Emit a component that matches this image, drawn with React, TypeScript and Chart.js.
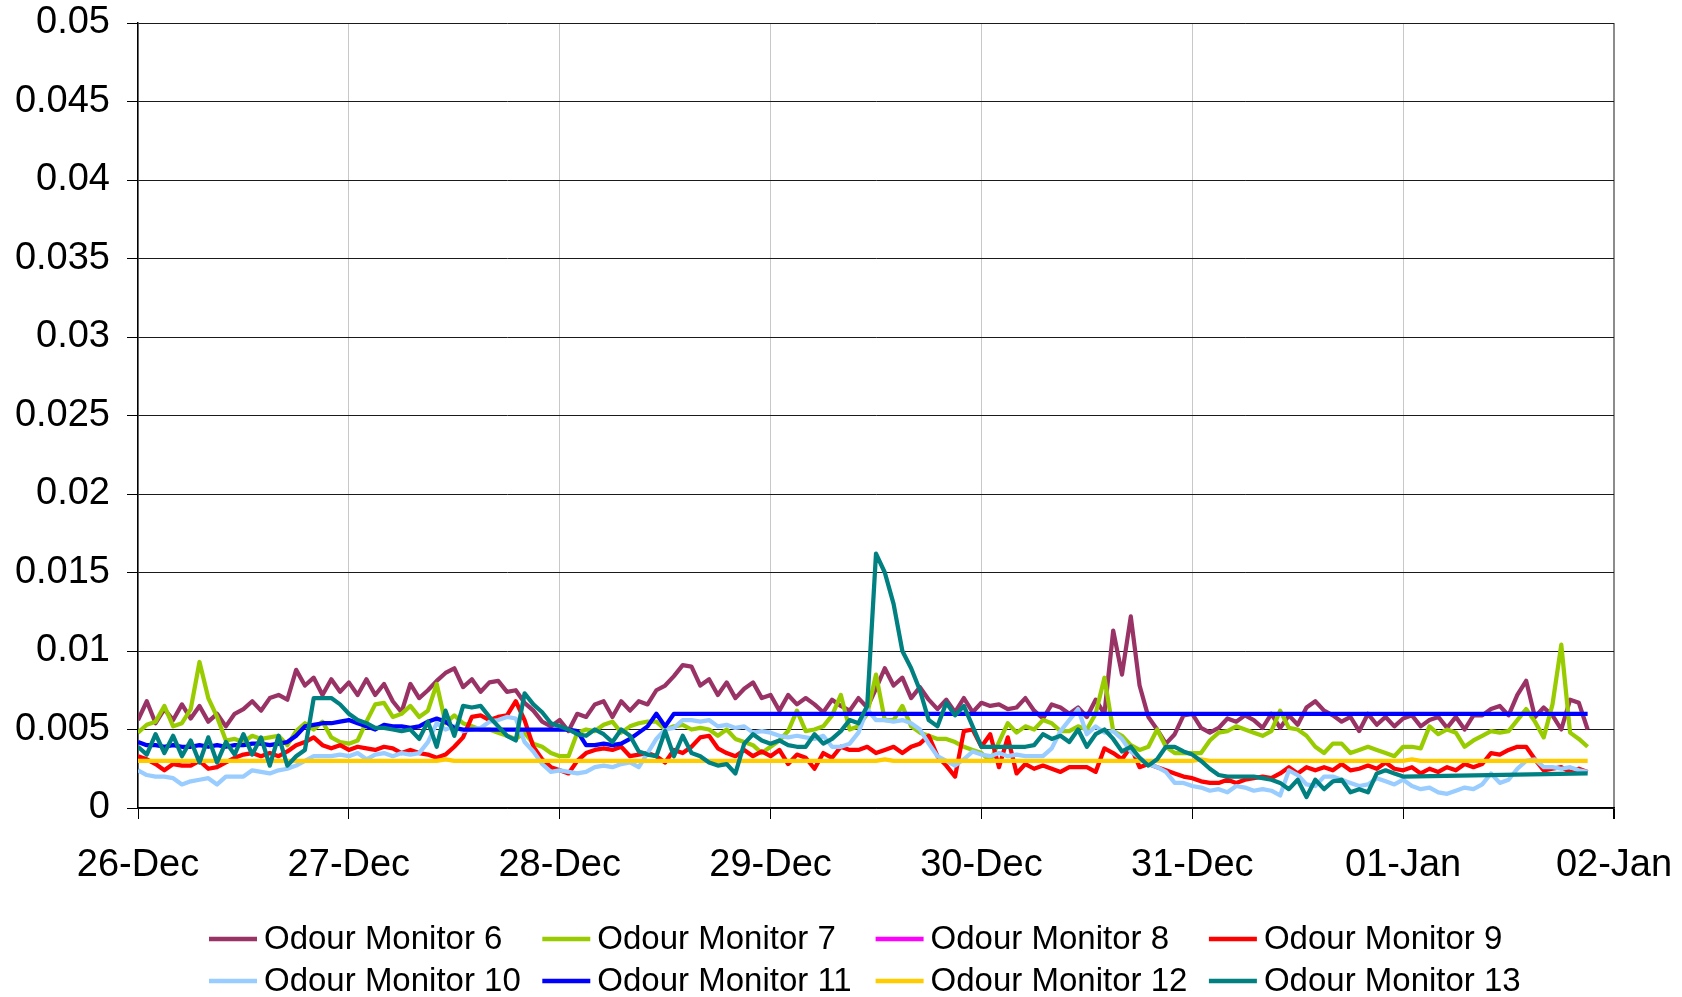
import React, { useEffect, useRef } from 'react';
import { Chart, registerables } from 'chart.js';

Chart.register(...registerables);

// ---------- data ----------
const xTickLabels = ['26-Dec', '27-Dec', '28-Dec', '29-Dec', '30-Dec', '31-Dec', '01-Jan', '02-Jan'];

const seriesNames = [
  'Odour Monitor 6', 'Odour Monitor 7', 'Odour Monitor 8', 'Odour Monitor 9',
  'Odour Monitor 10', 'Odour Monitor 11', 'Odour Monitor 12', 'Odour Monitor 13',
];
const seriesColors = ['#993366', '#99CC00', '#FF00FF', '#FF0000', '#99CCFF', '#0000FF', '#FFCC00', '#008080'];

// hourly readings starting 26-Dec 00:00
const monitor6 = [
  0.0056, 0.0068, 0.0054, 0.0063, 0.0056, 0.0066, 0.0057, 0.0065, 0.0055, 0.0060, 0.0052, 0.0060, 0.0063, 0.0068, 0.0062, 0.0070, 0.0072, 0.0069, 0.0088, 0.0078, 0.0083, 0.0072, 0.0082, 0.0074,
  0.0080, 0.0072, 0.0082, 0.0072, 0.0079, 0.0068, 0.0061, 0.0079, 0.0070, 0.0075, 0.0081, 0.0086, 0.0089, 0.0077, 0.0082, 0.0074, 0.0080, 0.0081, 0.0074, 0.0075, 0.0067, 0.0062, 0.0055, 0.0052,
  0.0056, 0.0049, 0.0060, 0.0058, 0.0066, 0.0068, 0.0058, 0.0068, 0.0062, 0.0068, 0.0066, 0.0075, 0.0078, 0.0084, 0.0091, 0.0090, 0.0078, 0.0082, 0.0072, 0.0080, 0.0070, 0.0076, 0.0080, 0.0070,
  0.0072, 0.0062, 0.0072, 0.0066, 0.0070, 0.0066, 0.0061, 0.0069, 0.0065, 0.0062, 0.0070, 0.0064, 0.0076, 0.0089, 0.0078, 0.0083, 0.0070, 0.0077, 0.0069, 0.0063, 0.0069, 0.0061, 0.0070, 0.0061,
  0.0067, 0.0065, 0.0066, 0.0063, 0.0064, 0.0070, 0.0062, 0.0057, 0.0066, 0.0064, 0.0060, 0.0064, 0.0058, 0.0069, 0.0060, 0.0113, 0.0085, 0.0122, 0.0078, 0.0058, 0.0050, 0.0041, 0.0047, 0.0059,
  0.0060, 0.0051, 0.0048, 0.0051, 0.0057, 0.0055, 0.0059, 0.0056, 0.0051, 0.0060, 0.0051, 0.0059, 0.0053, 0.0064, 0.0068, 0.0062, 0.0059, 0.0055, 0.0058, 0.0049, 0.0060, 0.0053, 0.0058, 0.0052,
  0.0057, 0.0059, 0.0052, 0.0056, 0.0058, 0.0051, 0.0058, 0.0050, 0.0059, 0.0059, 0.0063, 0.0065, 0.0059, 0.0072, 0.0081, 0.0058, 0.0064, 0.0059, 0.0050, 0.0069, 0.0067, 0.0050,
];

const monitor7 = [
  0.0048, 0.0053, 0.0055, 0.0065, 0.0052, 0.0054, 0.0063, 0.0093, 0.0070, 0.0058, 0.0043, 0.0044, 0.0042, 0.0046, 0.0044, 0.0045, 0.0046, 0.0040, 0.0049, 0.0054, 0.0050, 0.0055, 0.0045, 0.0042,
  0.0041, 0.0043, 0.0055, 0.0066, 0.0067, 0.0058, 0.0060, 0.0065, 0.0058, 0.0062, 0.0079, 0.0054, 0.0059, 0.0054, 0.0052, 0.0050, 0.0050, 0.0048, 0.0046, 0.0044, 0.0048, 0.0041, 0.0039, 0.0035,
  0.0033, 0.0033, 0.0048, 0.0050, 0.0049, 0.0053, 0.0055, 0.0048, 0.0052, 0.0054, 0.0055, 0.0055, 0.0050, 0.0052, 0.0053, 0.0050, 0.0051, 0.0050, 0.0046, 0.0050, 0.0044, 0.0042, 0.0040, 0.0035,
  0.0039, 0.0043, 0.0049, 0.0062, 0.0049, 0.0050, 0.0052, 0.0059, 0.0072, 0.0050, 0.0052, 0.0060, 0.0085, 0.0056, 0.0056, 0.0065, 0.0052, 0.0048, 0.0046, 0.0044, 0.0044, 0.0042, 0.0039, 0.0037,
  0.0035, 0.0030, 0.0042, 0.0054, 0.0048, 0.0052, 0.0050, 0.0056, 0.0054, 0.0049, 0.0049, 0.0052, 0.0050, 0.0060, 0.0083, 0.0049, 0.0046, 0.0040, 0.0037, 0.0039, 0.0050, 0.0039, 0.0035, 0.0035,
  0.0035, 0.0035, 0.0043, 0.0048, 0.0049, 0.0052, 0.0050, 0.0048, 0.0046, 0.0049, 0.0062, 0.0051, 0.0050, 0.0046, 0.0039, 0.0035, 0.0041, 0.0041, 0.0035, 0.0037, 0.0039, 0.0037, 0.0035, 0.0033,
  0.0039, 0.0039, 0.0038, 0.0052, 0.0047, 0.0050, 0.0048, 0.0039, 0.0043, 0.0046, 0.0049, 0.0048, 0.0049, 0.0056, 0.0063, 0.0055, 0.0045, 0.0066, 0.0104, 0.0048, 0.0044, 0.0039,
];

const monitor8: (number | null)[] = [];

const monitor9 = [
  0.0033, 0.0031, 0.0028, 0.0024, 0.0028, 0.0027, 0.0027, 0.0030, 0.0025, 0.0026, 0.0029, 0.0032, 0.0034, 0.0035, 0.0033, 0.0035, 0.0033, 0.0036, 0.0040, 0.0042, 0.0045, 0.0040, 0.0038, 0.0040,
  0.0037, 0.0039, 0.0038, 0.0037, 0.0039, 0.0038, 0.0035, 0.0037, 0.0035, 0.0034, 0.0032, 0.0034, 0.0039, 0.0045, 0.0058, 0.0059, 0.0056, 0.0058, 0.0059, 0.0068, 0.0056, 0.0039, 0.0031, 0.0026,
  0.0024, 0.0022, 0.0030, 0.0035, 0.0037, 0.0038, 0.0037, 0.0039, 0.0033, 0.0034, 0.0035, 0.0033, 0.0029, 0.0037, 0.0035, 0.0039, 0.0045, 0.0046, 0.0038, 0.0035, 0.0033, 0.0037, 0.0033, 0.0036,
  0.0033, 0.0037, 0.0028, 0.0034, 0.0032, 0.0025, 0.0035, 0.0032, 0.0039, 0.0037, 0.0037, 0.0039, 0.0035, 0.0037, 0.0039, 0.0035, 0.0039, 0.0041, 0.0046, 0.0033, 0.0027, 0.0020, 0.0049, 0.0050,
  0.0039, 0.0047, 0.0026, 0.0045, 0.0022, 0.0028, 0.0025, 0.0027, 0.0025, 0.0023, 0.0026, 0.0026, 0.0026, 0.0023, 0.0038, 0.0035, 0.0031, 0.0039, 0.0026, 0.0028, 0.0026, 0.0024, 0.0022, 0.0020,
  0.0019, 0.0017, 0.0016, 0.0016, 0.0018, 0.0016, 0.0018, 0.0019, 0.0020, 0.0019, 0.0022, 0.0026, 0.0022, 0.0026, 0.0024, 0.0026, 0.0024, 0.0028, 0.0024, 0.0025, 0.0027, 0.0025, 0.0029, 0.0025,
  0.0024, 0.0026, 0.0022, 0.0025, 0.0023, 0.0026, 0.0024, 0.0028, 0.0026, 0.0028, 0.0035, 0.0034, 0.0037, 0.0039, 0.0039, 0.0031, 0.0024, 0.0025, 0.0026, 0.0023, 0.0025, 0.0023,
];

const monitor10 = [
  0.0024, 0.0021, 0.0020, 0.0020, 0.0019, 0.0015, 0.0017, 0.0018, 0.0019, 0.0015, 0.0020, 0.0020, 0.0020, 0.0024, 0.0023, 0.0022, 0.0024, 0.0025, 0.0027, 0.0030, 0.0033, 0.0033, 0.0033, 0.0034,
  0.0033, 0.0035, 0.0031, 0.0034, 0.0035, 0.0033, 0.0035, 0.0034, 0.0035, 0.0042, 0.0054, 0.0050, 0.0052, 0.0049, 0.0050, 0.0051, 0.0055, 0.0056, 0.0058, 0.0057, 0.0042, 0.0036, 0.0028, 0.0023,
  0.0024, 0.0023, 0.0022, 0.0023, 0.0026, 0.0027, 0.0026, 0.0028, 0.0029, 0.0026, 0.0035, 0.0044, 0.0050, 0.0051, 0.0056, 0.0056, 0.0055, 0.0056, 0.0052, 0.0053, 0.0051, 0.0052, 0.0048, 0.0049,
  0.0048, 0.0046, 0.0045, 0.0046, 0.0045, 0.0044, 0.0046, 0.0039, 0.0039, 0.0041, 0.0048, 0.0063, 0.0056, 0.0056, 0.0055, 0.0056, 0.0054, 0.0050, 0.0041, 0.0033, 0.0030, 0.0027, 0.0031, 0.0036,
  0.0034, 0.0033, 0.0035, 0.0033, 0.0034, 0.0033, 0.0033, 0.0033, 0.0038, 0.0049, 0.0056, 0.0063, 0.0047, 0.0052, 0.0048, 0.0049, 0.0044, 0.0036, 0.0032, 0.0028, 0.0026, 0.0023, 0.0016, 0.0016,
  0.0014, 0.0013, 0.0011, 0.0012, 0.0010, 0.0014, 0.0013, 0.0011, 0.0012, 0.0011, 0.0008, 0.0024, 0.0021, 0.0015, 0.0014, 0.0020, 0.0020, 0.0018, 0.0016, 0.0014, 0.0015, 0.0019, 0.0017, 0.0015,
  0.0018, 0.0014, 0.0012, 0.0013, 0.0010, 0.0009, 0.0011, 0.0013, 0.0012, 0.0015, 0.0022, 0.0016, 0.0018, 0.0025, 0.0030, 0.0031, 0.0026, 0.0026, 0.0025, 0.0026, 0.0024, 0.0023,
];

const monitor11 = [
  0.0042, 0.0040, 0.0040, 0.0039, 0.0040, 0.0039, 0.0039, 0.0040, 0.0039, 0.0040, 0.0039, 0.0040, 0.0040, 0.0041, 0.0041, 0.0040, 0.0041, 0.0042, 0.0046, 0.0052, 0.0053, 0.0054, 0.0054, 0.0055,
  0.0056, 0.0054, 0.0052, 0.0050, 0.0053, 0.0052, 0.0052, 0.0051, 0.0052, 0.0055, 0.0057, 0.0055, 0.0051, 0.0050, 0.0050, 0.0050, 0.0050, 0.0050, 0.0050, 0.0050, 0.0050, 0.0050, 0.0050, 0.0050,
  0.0050, 0.0050, 0.0049, 0.0040, 0.0040, 0.0041, 0.0040, 0.0041, 0.0044, 0.0048, 0.0052, 0.0060, 0.0052, 0.0060, 0.0060, 0.0060, 0.0060, 0.0060, 0.0060, 0.0060, 0.0060, 0.0060, 0.0060, 0.0060,
  0.0060, 0.0060, 0.0060, 0.0060, 0.0060, 0.0060, 0.0060, 0.0060, 0.0060, 0.0060, 0.0060, 0.0060, 0.0060, 0.0060, 0.0060, 0.0060, 0.0060, 0.0060, 0.0060, 0.0060, 0.0060, 0.0060, 0.0060, 0.0060,
  0.0060, 0.0060, 0.0060, 0.0060, 0.0060, 0.0060, 0.0060, 0.0060, 0.0060, 0.0060, 0.0060, 0.0060, 0.0060, 0.0060, 0.0060, 0.0060, 0.0060, 0.0060, 0.0060, 0.0060, 0.0060, 0.0060, 0.0060, 0.0060,
  0.0060, 0.0060, 0.0060, 0.0060, 0.0060, 0.0060, 0.0060, 0.0060, 0.0060, 0.0060, 0.0060, 0.0060, 0.0060, 0.0060, 0.0060, 0.0060, 0.0060, 0.0060, 0.0060, 0.0060, 0.0060, 0.0060, 0.0060, 0.0060,
  0.0060, 0.0060, 0.0060, 0.0060, 0.0060, 0.0060, 0.0060, 0.0060, 0.0060, 0.0060, 0.0060, 0.0060, 0.0060, 0.0060, 0.0060, 0.0060, 0.0060, 0.0060, 0.0060, 0.0060, 0.0060, 0.0060,
];

const monitor12 = [
  0.0030, 0.0030, 0.0030, 0.0030, 0.0030, 0.0030, 0.0030, 0.0030, 0.0030, 0.0030, 0.0030, 0.0030, 0.0030, 0.0030, 0.0030, 0.0030, 0.0030, 0.0030, 0.0030, 0.0030, 0.0030, 0.0030, 0.0030, 0.0030,
  0.0030, 0.0030, 0.0030, 0.0030, 0.0030, 0.0030, 0.0030, 0.0030, 0.0030, 0.0030, 0.0030, 0.0031, 0.0030, 0.0030, 0.0030, 0.0030, 0.0030, 0.0030, 0.0030, 0.0030, 0.0030, 0.0030, 0.0030, 0.0030,
  0.0030, 0.0030, 0.0030, 0.0030, 0.0030, 0.0030, 0.0030, 0.0030, 0.0030, 0.0030, 0.0030, 0.0030, 0.0030, 0.0030, 0.0030, 0.0030, 0.0030, 0.0030, 0.0030, 0.0030, 0.0030, 0.0030, 0.0030, 0.0030,
  0.0030, 0.0030, 0.0030, 0.0030, 0.0030, 0.0030, 0.0030, 0.0030, 0.0030, 0.0030, 0.0030, 0.0030, 0.0030, 0.0031, 0.0030, 0.0030, 0.0030, 0.0030, 0.0030, 0.0030, 0.0030, 0.0030, 0.0030, 0.0030,
  0.0030, 0.0030, 0.0030, 0.0030, 0.0030, 0.0030, 0.0030, 0.0030, 0.0030, 0.0030, 0.0030, 0.0030, 0.0030, 0.0030, 0.0030, 0.0030, 0.0030, 0.0030, 0.0030, 0.0030, 0.0030, 0.0030, 0.0030, 0.0030,
  0.0030, 0.0031, 0.0030, 0.0030, 0.0030, 0.0030, 0.0030, 0.0030, 0.0030, 0.0030, 0.0030, 0.0030, 0.0030, 0.0030, 0.0030, 0.0030, 0.0030, 0.0030, 0.0030, 0.0030, 0.0030, 0.0030, 0.0030, 0.0030,
  0.0030, 0.0031, 0.0030, 0.0030, 0.0030, 0.0030, 0.0030, 0.0030, 0.0030, 0.0030, 0.0030, 0.0030, 0.0030, 0.0030, 0.0030, 0.0030, 0.0030, 0.0030, 0.0030, 0.0030, 0.0030, 0.0030,
];

const monitor13: (number | null)[] = [
  0.0039, 0.0034, 0.0047, 0.0035, 0.0046, 0.0033, 0.0043, 0.0029, 0.0045, 0.0029, 0.0042, 0.0034, 0.0047, 0.0034, 0.0045, 0.0027, 0.0046, 0.0027, 0.0033, 0.0037, 0.0070, 0.0070, 0.0070, 0.0066,
  0.0060, 0.0056, 0.0054, 0.0051, 0.0051, 0.0050, 0.0049, 0.0050, 0.0044, 0.0055, 0.0039, 0.0062, 0.0046, 0.0065, 0.0064, 0.0065, 0.0058, 0.0052, 0.0046, 0.0043, 0.0073, 0.0066, 0.0061, 0.0054,
  0.0052, 0.0050, 0.0047, 0.0046, 0.0050, 0.0047, 0.0042, 0.0050, 0.0046, 0.0036, 0.0034, 0.0033, 0.0049, 0.0033, 0.0046, 0.0035, 0.0033, 0.0029, 0.0027, 0.0028, 0.0022, 0.0041, 0.0047, 0.0043,
  0.0041, 0.0043, 0.0040, 0.0039, 0.0039, 0.0047, 0.0041, 0.0044, 0.0049, 0.0056, 0.0054, 0.0065, 0.0162, 0.0150, 0.0130, 0.0100, 0.0089, 0.0075, 0.0056, 0.0052, 0.0067, 0.0059, 0.0065, 0.0052,
  0.0039, 0.0039, 0.0039, 0.0039, 0.0039, 0.0039, 0.0040, 0.0047, 0.0044, 0.0046, 0.0042, 0.0050, 0.0039, 0.0047, 0.0050, 0.0044, 0.0036, 0.0039, 0.0032, 0.0027, 0.0031, 0.0039, 0.0039, 0.0036,
  0.0034, 0.0030, 0.0025, 0.0021, 0.0020, 0.0020, 0.0020, 0.0020, 0.0019, 0.0018, 0.0016, 0.0012, 0.0018, 0.0007, 0.0018, 0.0012, 0.0017, 0.0018, 0.0010, 0.0012, 0.0010, 0.0022, 0.0024, 0.0022,
  0.0020, null, null, null, null, null, null, null, null, null, null, null, null, null, null, null, null, null, null, null, null, 0.0022,
];

const seriesValues = [monitor6, monitor7, monitor8, monitor9, monitor10, monitor11, monitor12, monitor13];

const FONT = '"Liberation Sans", Arial, Helvetica, sans-serif';

const gridLegend = {
  id: 'gridLegend',
  afterDraw(chart: any) {
    const ctx = chart.ctx as CanvasRenderingContext2D;
    ctx.save();
    ctx.font = `33px ${FONT}`;
    ctx.textBaseline = 'middle';
    ctx.textAlign = 'left';
    seriesNames.forEach((name, i) => {
      const col = i % 4;
      const row = Math.floor(i / 4);
      const x = 209 + col * 333.3;
      const y = 939 + row * 42;
      ctx.strokeStyle = seriesColors[i];
      ctx.lineWidth = 4.5;
      ctx.beginPath();
      ctx.moveTo(x, y);
      ctx.lineTo(x + 48, y);
      ctx.stroke();
      ctx.fillStyle = '#000';
      ctx.fillText(name, x + 55, y + 1);
    });
    ctx.restore();
  },
};

export default function App() {
  const ref = useRef<HTMLCanvasElement | null>(null);

  useEffect(() => {
    if (!ref.current) return;
    Chart.defaults.font.family = FONT;
    Chart.defaults.color = '#000';
    const datasets = seriesValues.map((vals, i) => ({
      label: seriesNames[i],
      data: vals.map((v, k) => ({ x: k / 24, y: v })),
      borderColor: seriesColors[i],
      backgroundColor: seriesColors[i],
      borderWidth: 4.25,
      borderJoinStyle: 'round' as const,
      pointRadius: 0,
      tension: 0,
      spanGaps: true,
      fill: false,
      order: 100 - i,
    }));
    const chart = new Chart(ref.current, {
      type: 'line',
      data: { datasets },
      plugins: [gridLegend],
      options: {
        animation: false,
        responsive: false,
        maintainAspectRatio: false,
        layout: { padding: { left: 0, right: 68, top: 23, bottom: 0 } },
        plugins: { legend: { display: false }, tooltip: { enabled: false } },
        scales: {
          x: {
            type: 'linear',
            min: 0,
            max: 7,
            afterFit: (s: any) => { s.height = 189; s.paddingLeft = 0; s.paddingRight = 0; },
            ticks: {
              stepSize: 1,
              autoSkip: false,
              maxRotation: 0,
              padding: 24,
              font: { size: 38 },
              color: '#000',
              callback: (v: any) => xTickLabels[Math.round(Number(v))] ?? '',
            },
            grid: {
              color: (c: any) => (c.tick && c.tick.value === 7 ? '#8c8c8c' : '#c8c8c8'),
              lineWidth: (c: any) => (c.tick && c.tick.value === 7 ? 2 : 1),
              tickColor: '#000',
              tickLength: 11,
              drawTicks: true,
            },
            border: { display: true, color: '#000', width: 1.5 },
          },
          y: {
            type: 'linear',
            min: 0,
            max: 0.05,
            afterFit: (s: any) => { s.width = 138; s.paddingTop = 0; s.paddingBottom = 0; },
            ticks: {
              stepSize: 0.005,
              padding: 17,
              font: { size: 38 },
              color: '#000',
              callback: (v: any) => String(Number(Number(v).toFixed(3))),
            },
            grid: {
              color: '#1a1a1a',
              lineWidth: 1,
              tickColor: '#000',
              tickLength: 11,
            },
            border: { display: true, color: '#000', width: 1.5 },
          },
        },
      },
    });
    return () => chart.destroy();
  }, []);

  return (
    <div style={{ position: 'fixed', left: 0, top: 0, width: 1682, height: 997, background: '#fff' }}>
      <canvas ref={ref} width={1682} height={997} style={{ width: 1682, height: 997, display: 'block' }} />
    </div>
  );
}
